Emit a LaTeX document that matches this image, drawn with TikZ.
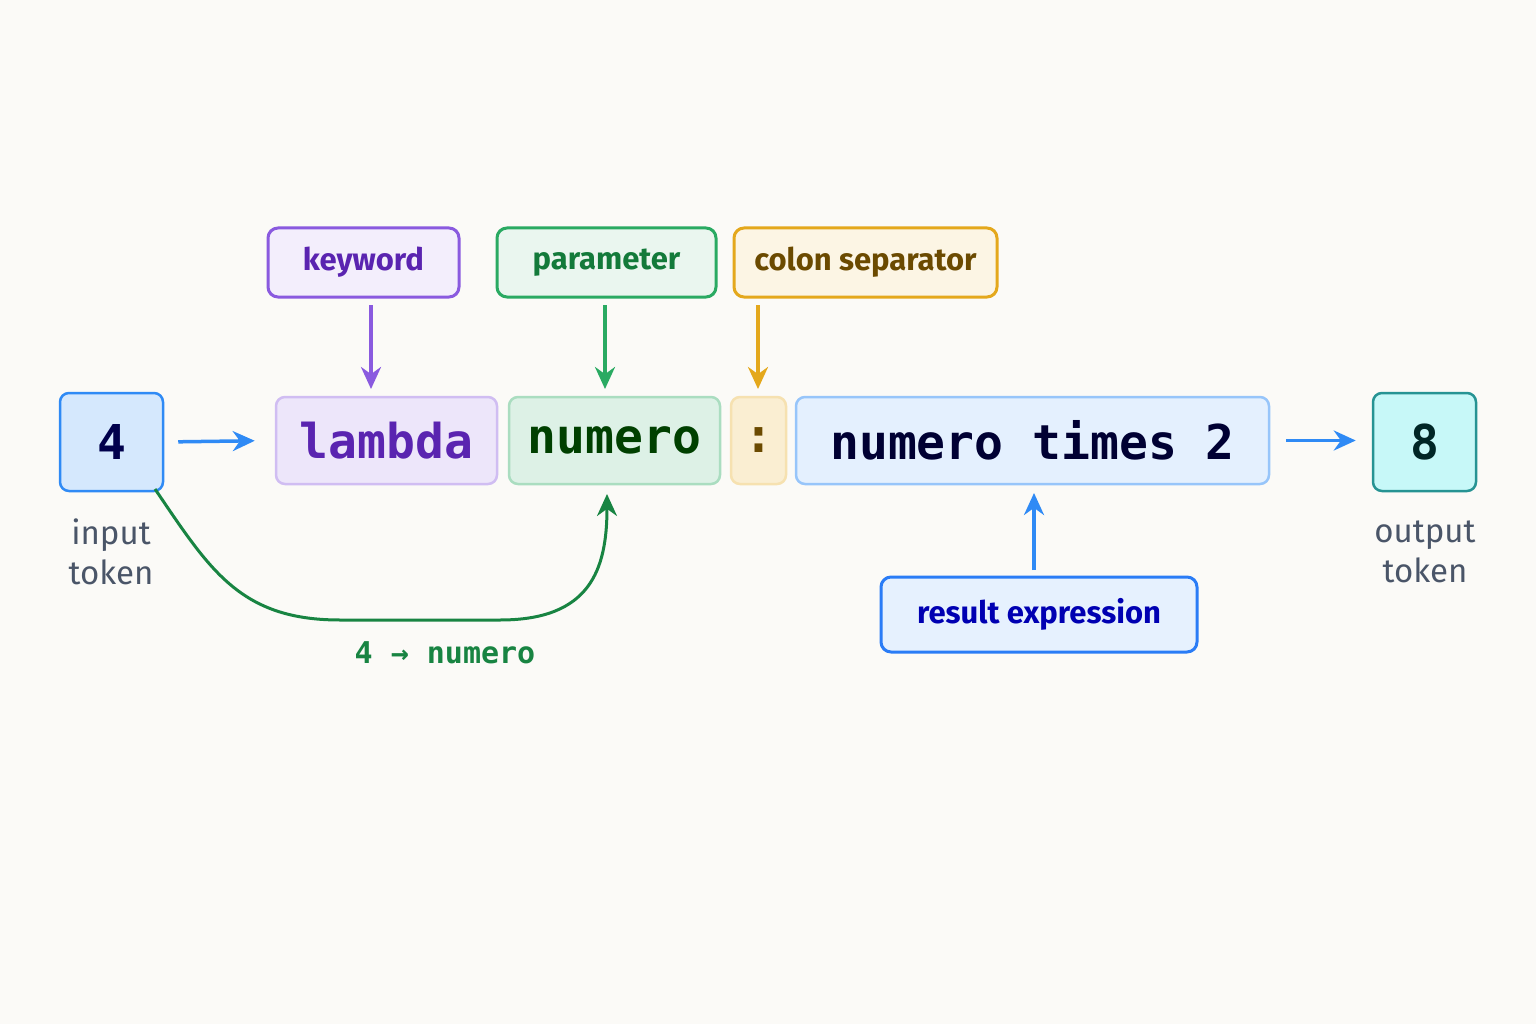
\documentclass[tikz,border=0pt]{standalone}
\usepackage{fontspec}
\setmainfont{Fira Sans}
\newfontfamily\monof{DejaVu Sans Mono}
\usetikzlibrary{arrows.meta}
\definecolor{bg}{HTML}{FBFAF7}
\definecolor{blueA}{HTML}{2F8AF5}
\definecolor{pu}{HTML}{8A5ADF}
\definecolor{puT}{HTML}{5A24B0}
\definecolor{gr}{HTML}{2AAA62}
\definecolor{grT}{HTML}{137A3A}
\definecolor{ye}{HTML}{E4A81C}
\definecolor{yeT}{HTML}{6B4A00}
\tikzset{
 x=1pt,y=-1pt,
 box/.style={draw,rounded corners=9pt,line width=2.5pt,inner sep=0pt,font=\monof\bfseries\fontsize{48}{48}\selectfont},
 lab/.style={draw,rounded corners=10pt,line width=3pt,inner sep=0pt,font=\bfseries\fontsize{31}{31}\selectfont},
 arr/.style={line width=3.5pt,-{Stealth[length=22pt,width=20pt]}},
 captxt/.style={text=HTMLgray,font=\fontsize{33}{40}\selectfont,align=center}
}
\definecolor{HTMLgray}{HTML}{4A5568}
\begin{document}
\begin{tikzpicture}
\useasboundingbox[fill=bg] (0,0) rectangle (1536,1024);
\node[box,fill=blueA!20,draw=blueA,minimum width=103pt,minimum height=98pt,text=blue!30!black] (in) at (111.5,442) {4};
\node[box,fill=pu!15,draw=pu!40,minimum width=221pt,minimum height=87pt,text=puT] (lam) at (386.5,440.5) {lambda};
\node[box,fill=gr!16,draw=gr!40,minimum width=211pt,minimum height=87pt,text=green!25!black] (num) at (614.5,440.5) {numero};
\node[box,fill=ye!20,draw=ye!35,minimum width=55pt,minimum height=87pt,text=yeT] (col) at (758.5,440.5) {:};
\node[box,fill=blueA!13,draw=blueA!50,minimum width=473pt,minimum height=87pt,text=blue!20!black] (expr) at (1032.5,440.5) {numero times 2};
\node[box,fill=teal!25!cyan!22,draw=teal!85,minimum width=103pt,minimum height=98pt,text=teal!30!black] (out) at (1424.5,442) {8};
\draw[arr,blueA,shorten <=14pt,shorten >=20pt] (in.east) -- (lam.west);
\draw[arr,blueA,shorten <=16pt,shorten >=16pt] (expr.east) -- (expr.east -| out.west);
\node[lab,fill=pu!10,draw=pu,text=puT,minimum width=191pt,minimum height=69pt] (kw) at (363.5,262.5) {keyword};
\node[lab,fill=gr!10,draw=gr,text=grT,minimum width=219pt,minimum height=69pt] (par) at (606.5,262.5) {parameter};
\node[lab,fill=ye!12,draw=ye,text=yeT,minimum width=263pt,minimum height=69pt] (cs) at (865.5,262.5) {colon separator};
\node[lab,fill=blueA!12,draw=blueA!90!blue,text=blue!70!black,minimum width=316pt,minimum height=75pt] (res) at (1039,614.5) {result expression};
\draw[arr,pu] (371,305) -- (371,389);
\draw[arr,gr] (605,305) -- (605,389);
\draw[arr,ye] (758,305) -- (758,389);
\draw[arr,blueA] (1034,570) -- (1034,493);
\node[captxt] (it) at (111,552) {input\\token};
\node[captxt] (ot) at (1425,552) {output\\token};
\draw[line width=3pt,grT!80!gr,-{Stealth[length=22pt,width=20pt]}] (155,489) .. controls (210,570) and (240,620) .. (340,620) -- (500,620) .. controls (590,620) and (607,570) .. (607,494);
\node[font=\monof\bfseries\fontsize{30}{30}\selectfont,text=grT!80!gr] (map) at (445,653) {4 → numero};
\end{tikzpicture}
\end{document}
